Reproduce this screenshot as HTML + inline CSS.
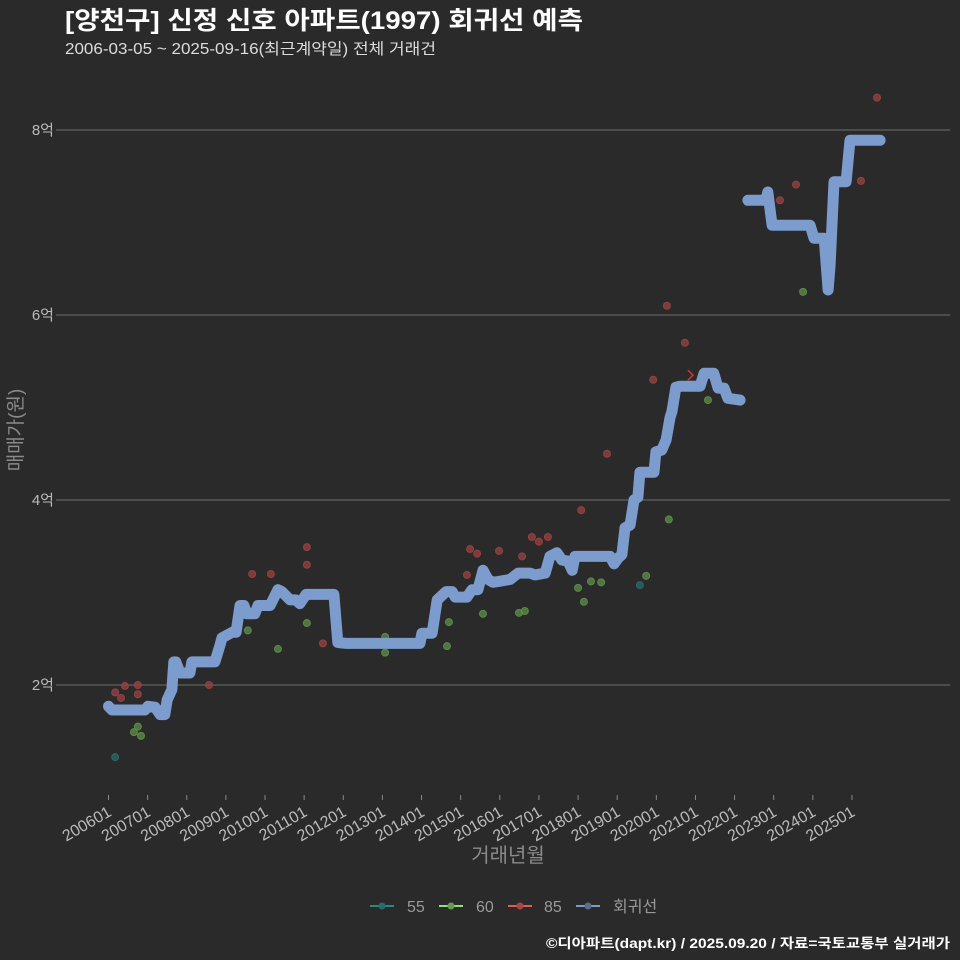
<!DOCTYPE html>
<html><head><meta charset="utf-8">
<style>
html,body{margin:0;padding:0;background:#2b2a2b;}
svg{display:block;font-family:"Liberation Sans","Noto Sans CJK KR",sans-serif;}
</style></head>
<body>
<svg id="chart" width="960" height="960" viewBox="0 0 960 960">
<rect x="0" y="0" width="960" height="960" fill="#2b2a2b"/>
<text x="65" y="29" fill="#ffffff" font-size="25" font-weight="bold" textLength="518" lengthAdjust="spacingAndGlyphs">[양천구] 신정 신호 아파트(1997) 회귀선 예측</text>
<text x="65" y="54" fill="#dddddd" font-size="15.5" textLength="371" lengthAdjust="spacingAndGlyphs">2006-03-05 ~ 2025-09-16(최근계약일) 전체 거래건</text>
<g id="grid"></g>
<g id="xaxis"></g>
<g id="points"></g>
<g id="lines"></g>
<text transform="translate(22,430) rotate(-90)" text-anchor="middle" fill="#8a8a8a" font-size="19">매매가(원)</text>
<text x="508" y="862" text-anchor="middle" fill="#8a8a8a" font-size="20">거래년월</text>
<g font-size="16" fill="#999">
 <g><line x1="370" y1="906" x2="394" y2="906" stroke="#2a8a80" stroke-width="2"/><circle cx="382" cy="906" r="3.5" fill="#2a6a6a"/><text x="407" y="912">55</text></g>
 <g><line x1="439" y1="906" x2="463" y2="906" stroke="#8ee07a" stroke-width="2"/><circle cx="451" cy="906" r="3.5" fill="#6a9a50"/><text x="476" y="912">60</text></g>
 <g><line x1="508" y1="906" x2="532" y2="906" stroke="#e05a5a" stroke-width="2"/><circle cx="520" cy="906" r="3.5" fill="#a84545"/><text x="544" y="912">85</text></g>
 <g><line x1="576" y1="906" x2="600" y2="906" stroke="#7b9ccc" stroke-width="2"/><circle cx="588" cy="906" r="3.5" fill="#5a6e8a"/><text x="613" y="912">회귀선</text></g>
</g>
<text x="950" y="948" text-anchor="end" fill="#ffffff" font-size="13.5" font-weight="bold" textLength="404" lengthAdjust="spacingAndGlyphs">©디아파트(dapt.kr) / 2025.09.20 / 자료=국토교통부 실거래가</text>
</svg>
<script>
const yTicks=[2,4,6,8];
const xTickYears=[2006,2007,2008,2009,2010,2011,2012,2013,2014,2015,2016,2017,2018,2019,2020,2021,2022,2023,2024,2025];
const line1Dates=[2006.0,2006.09,2006.93,2007.01,2007.19,2007.32,2007.44,2007.5,2007.62,2007.67,2007.72,2007.83,2008.08,2008.13,2008.72,2008.85,2008.9,2009.16,2009.26,2009.36,2009.46,2009.54,2009.74,2009.82,2010.13,2010.33,2010.43,2010.64,2010.79,2010.89,2011.05,2011.76,2011.86,2012.07,2013.96,2014.01,2014.27,2014.4,2014.63,2014.78,2014.86,2015.16,2015.29,2015.44,2015.57,2015.7,2015.83,2016.26,2016.47,2016.77,2016.9,2017.16,2017.28,2017.46,2017.59,2017.74,2017.85,2017.92,2018.82,2018.92,2019.02,2019.12,2019.2,2019.33,2019.43,2019.53,2019.58,2019.94,2019.99,2020.14,2020.25,2020.35,2020.4,2020.5,2020.6,2021.12,2021.22,2021.47,2021.58,2021.73,2021.83,2022.14];
const line1Prices=[1.77,1.73,1.73,1.77,1.76,1.68,1.68,1.84,1.95,2.25,2.25,2.13,2.13,2.25,2.25,2.43,2.51,2.57,2.57,2.86,2.86,2.77,2.77,2.86,2.86,3.03,3.01,2.92,2.92,2.88,2.98,2.98,2.46,2.45,2.45,2.56,2.56,2.92,3.01,3.01,2.95,2.95,3.03,3.03,3.24,3.14,3.11,3.14,3.21,3.21,3.19,3.21,3.39,3.43,3.35,3.34,3.24,3.39,3.39,3.31,3.37,3.41,3.7,3.73,4.0,4.03,4.3,4.3,4.52,4.54,4.65,4.89,4.96,5.22,5.23,5.23,5.37,5.37,5.21,5.21,5.1,5.08];
const line2Dates=[2022.34,2022.8,2022.85,2022.96,2023.93,2024.03,2024.29,2024.39,2024.44,2024.54,2024.85,2024.95,2025.72];
const line2Prices=[7.24,7.24,7.33,6.97,6.97,6.83,6.83,6.27,6.54,7.44,7.44,7.89,7.89];
const redDates=[2006.17,2006.42,2006.32,2006.75,2006.75,2008.57,2009.67,2010.15,2011.07,2011.07,2011.48,2015.24,2015.42,2015.16,2015.98,2016.57,2016.82,2017.0,2017.23,2018.08,2018.74,2019.92,2020.27,2020.73,2023.16,2023.57,2025.23,2025.64];
const redPrices=[1.92,1.99,1.86,2.0,1.9,2.0,3.2,3.2,3.49,3.3,2.45,3.47,3.42,3.19,3.45,3.39,3.6,3.55,3.6,3.89,4.5,5.3,6.1,5.7,7.24,7.41,7.45,8.35];
const greenDates=[2006.75,2006.65,2006.83,2009.56,2010.33,2011.07,2013.07,2013.07,2014.65,2014.7,2015.57,2016.49,2016.64,2018.0,2018.15,2018.33,2018.59,2019.74,2020.32,2021.32,2023.75];
const greenPrices=[1.55,1.49,1.45,2.59,2.39,2.67,2.52,2.35,2.42,2.68,2.77,2.78,2.8,3.05,2.9,3.12,3.11,3.18,3.79,5.08,6.25];
const tealDates=[2006.17,2019.58];
const tealPrices=[1.22,3.08];
const latestDates=[2020.91];
const latestPrices=[5.35];

const NS='http://www.w3.org/2000/svg';
function X(t){return 108.5+(t-2006)*39.13;}
function Y(v){return 685-(v-2)*92.5;}
function mk(tag,attrs,parent){const e=document.createElementNS(NS,tag);for(const k in attrs)e.setAttribute(k,attrs[k]);parent.appendChild(e);return e;}
const grid=document.getElementById('grid');
yTicks.forEach(v=>{
  const l=mk('line',{x1:56,x2:950,y1:Y(v),y2:Y(v),stroke:'#6e6e6e','stroke-width':1},grid);
  
  
  const t=mk('text',{x:54,y:Y(v)+5,'text-anchor':'end',fill:'#bbbbbb','font-size':15},grid);
  t.textContent=v+'억';
  
  
});
const xa=document.getElementById('xaxis');
xTickYears.forEach(yr=>{
  const x=X(yr);
  const tk=mk('line',{x1:x,x2:x,y1:795,y2:800,stroke:'#888','stroke-width':1},xa);
  
  
  const t=mk('text',{transform:'translate('+(x+4)+',815) rotate(-30)','text-anchor':'end',fill:'#bbbbbb','font-size':16},xa);
  t.textContent=yr+'01';
  
  
});
const pts=document.getElementById('points');
function dots(ds,ps,fill,name){
  ds.forEach((d,i)=>{
    const c=mk('circle',{cx:X(d),cy:Y(ps[i]),r:3.5,fill:fill,'fill-opacity':0.75,stroke:fill,'stroke-opacity':0.9},pts);
    
    
  });
}
dots(tealDates,tealPrices,'#2a6a6a','point-55');
dots(greenDates,greenPrices,'#5f8f4a','point-60');
dots(redDates,redPrices,'#9a4242','point-85');
const lines=document.getElementById('lines');
function path(ds,ps,name){
  const d=ds.map((t,i)=>(i?'L':'M')+X(t).toFixed(1)+','+Y(ps[i]).toFixed(1)).join(' ');
  const p=mk('path',{d:d,fill:'none',stroke:'#7b9ccc','stroke-width':11,'stroke-linejoin':'round','stroke-linecap':'round'},lines);
  
  
}
path(line1Dates,line1Prices,'regression-line-1');
path(line2Dates,line2Prices,'regression-line-2');
latestDates.forEach((d,i)=>{
  const x=X(d),y=Y(latestPrices[i]);
  const p=mk('path',{d:'M'+(x-4)+','+(y-5)+' L'+(x+1)+','+y+' L'+(x-4)+','+(y+5),fill:'none',stroke:'#e03030','stroke-width':1.5},lines);
  
  
});
</script>
</body></html>
